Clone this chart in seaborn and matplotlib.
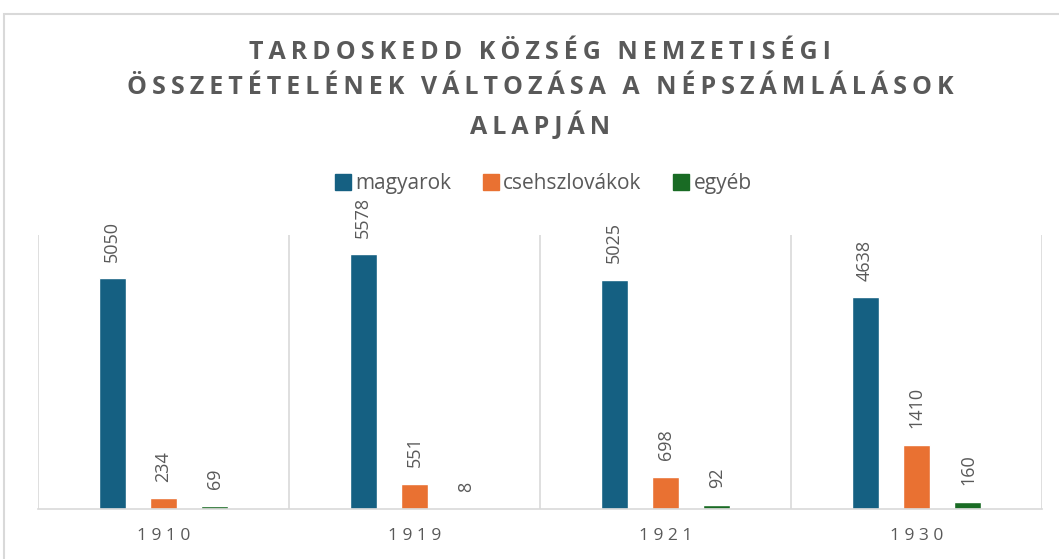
import pandas as pd
import seaborn as sns
import matplotlib.pyplot as plt
from matplotlib.patches import Rectangle

# -------------------------------
# Data
# -------------------------------
years = ["1910", "1919", "1921", "1930"]
series = ["magyarok", "csehszlovákok", "egyéb"]
magyarok = [5050, 5578, 5025, 4638]
csehszlovakok = [234, 551, 698, 1410]
egyeb = [69, 8, 92, 160]

title = "TARDOSKEDD KÖZSÉG NEMZETISÉGI\nÖSSZETÉTELÉNEK VÁLTOZÁSA A NÉPSZÁMLÁLÁSOK\nALAPJÁN"

colors = ["#156082", "#E97132", "#196B24"]
text_gray = "#595959"
grid_gray = "#D9D9D9"

rows = []
for name, vals in zip(series, [magyarok, csehszlovakok, egyeb]):
    for yr, v in zip(years, vals):
        rows.append({"year": yr, "group": name, "count": v})
df = pd.DataFrame(rows)


def spaced(s, sep="\u200a"):
    # crude letter spacing
    return "\n".join(sep.join(line) for line in s.split("\n"))


# -------------------------------
# Plot
# -------------------------------
sns.set_theme(style="white")
plt.rcParams["font.family"] = ["Open Sans", "DejaVu Sans"]

fig = plt.figure(figsize=(10.59, 5.59), dpi=100)
ax = fig.add_axes([38 / 1059, 50 / 559, 1004 / 1059, 274 / 559])

sns.barplot(data=df, x="year", y="count", hue="group", hue_order=series,
            palette=colors, width=0.615, gap=0.475, saturation=1,
            errorbar=None, ax=ax, legend=False)

for cont in ax.containers:
    ax.bar_label(cont, rotation=90, padding=12, color=text_gray, fontsize=13)

ax.set_ylim(0, 6000)
ax.set_xlim(-0.5, 3.5)
ax.set_yticks([])
ax.set_xticks(range(len(years)))
ax.set_xticklabels([spaced(y, " ") for y in years], color=text_gray, fontsize=12.5)
ax.tick_params(axis="x", length=0, pad=14)
ax.set_xticks([-0.5, 0.5, 1.5, 2.5, 3.5], minor=True)
ax.grid(True, axis="x", which="minor", color=grid_gray, linewidth=1.2)
ax.grid(False, axis="x", which="major")
ax.set_xlabel("")
ax.set_ylabel("")
for side in ["left", "right", "top"]:
    ax.spines[side].set_visible(False)
ax.spines["bottom"].set_color(grid_gray)
ax.spines["bottom"].set_linewidth(1.2)

# legend
handles = [plt.Line2D([], [], marker="s", linestyle="", markersize=11,
                      color=c) for c in colors]
fig.legend(handles, series, loc="center", bbox_to_anchor=(542 / 1059, 1 - 184 / 559),
           ncol=3, frameon=False, fontsize=15, labelcolor=text_gray,
           handletextpad=0.1, columnspacing=1.4, handlelength=1.0)

fig.text(540 / 1059, 1 - 90 / 559, spaced(title, "\u2009"), ha="center", va="center",
         fontsize=18, fontweight="bold", color=text_gray, linespacing=1.5)

# outer chart frame
fig.patches.append(Rectangle((4 / 1059, -0.1), 1.2, 1.1 - 14 / 559,
                             transform=fig.transFigure, fill=False,
                             edgecolor=grid_gray, linewidth=1.5))

fig.savefig("out.png", dpi=100)
